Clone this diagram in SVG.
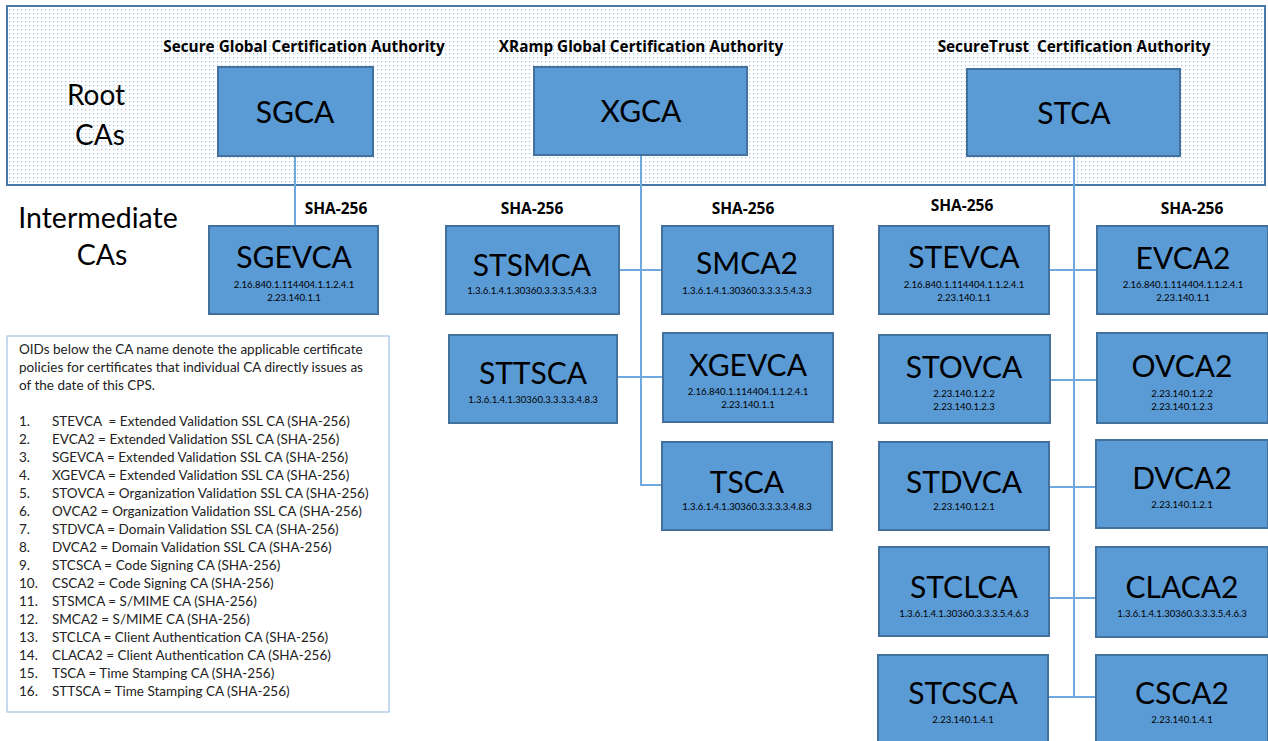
<svg xmlns="http://www.w3.org/2000/svg" width="1268" height="741" viewBox="0 0 1268 741">
<defs>
<pattern id="dots" width="4" height="4" patternUnits="userSpaceOnUse">
<rect width="4" height="4" fill="#ffffff"/>
<rect x="1" y="1" width="1.2" height="1.2" fill="#9fc2e4"/>
</pattern>
<style>
.node{fill:#5b9bd5;stroke:#41719c;stroke-width:2}
.name{font-family:Lato,"Open Sans",sans-serif;font-size:30px;fill:#000;text-anchor:middle}
.oid{font-family:Lato,"Open Sans",sans-serif;font-size:9.6px;fill:#000;text-anchor:middle}
.title{font-family:"Open Sans",Lato,sans-serif;font-size:15.3px;font-weight:bold;fill:#000;text-anchor:middle}
.sha{font-family:"Open Sans",Lato,sans-serif;font-size:15.5px;font-weight:bold;fill:#000;text-anchor:middle}
.lbl{font-family:Lato,"Open Sans",sans-serif;font-size:28px;fill:#000;text-anchor:middle}
.leg{font-family:Lato,"Open Sans",sans-serif;font-size:13.5px;fill:#222}
.wire{stroke:#6fa8dc;stroke-width:2;fill:none}
</style>
</defs>
<rect width="1268" height="741" fill="#ffffff"/>
<g id="root-band">
<rect x="7" y="6" width="1258" height="179" fill="url(#dots)" stroke="#4a76a8" stroke-width="2"/>
<text class="lbl" x="96" y="105">Root</text>
<text class="lbl" x="100" y="145">CAs</text>
<text class="title" x="304" y="52">Secure Global Certification Authority</text>
<text class="title" x="641" y="52">XRamp Global Certification Authority</text>
<text class="title" x="1074" y="52">SecureTrust&#160; Certification Authority</text>
</g>
<g id="intermediate-label">
<text class="lbl" x="98" y="228" style="font-size:28.5px">Intermediate</text>
<text class="lbl" x="102" y="265" style="font-size:28.5px">CAs</text>
</g>
<g id="sha-labels">
<text class="sha" x="336" y="214">SHA-256</text>
<text class="sha" x="532" y="214">SHA-256</text>
<text class="sha" x="743" y="214">SHA-256</text>
<text class="sha" x="962" y="211">SHA-256</text>
<text class="sha" x="1192" y="214">SHA-256</text>
</g>
<g id="connectors">
<path class="wire" d="M295 156 V226"/>
<path class="wire" d="M641 155 V485 H663"/>
<path class="wire" d="M619 270 H662"/>
<path class="wire" d="M617 377 H663"/>
<path class="wire" d="M1074 156 V697"/>
<path class="wire" d="M1049 270 H1097"/>
<path class="wire" d="M1050 380 H1097"/>
<path class="wire" d="M1049 487 H1096"/>
<path class="wire" d="M1049 598 H1096"/>
<path class="wire" d="M1048 697 H1096"/>
</g>
<g id="SGCA"><rect class="node" x="218" y="67" width="155" height="89"/><text class="name" x="295" y="123">SGCA</text></g>
<g id="XGCA"><rect class="node" x="534" y="67" width="213" height="88"/><text class="name" x="641" y="122">XGCA</text></g>
<g id="STCA"><rect class="node" x="967" y="69" width="213" height="87"/><text class="name" x="1074" y="124">STCA</text></g>
<g id="SGEVCA"><rect class="node" x="209" y="226" width="169" height="88"/><text class="name" x="294" y="268">SGEVCA</text><text class="oid" x="294" y="288">2.16.840.1.114404.1.1.2.4.1</text><text class="oid" x="294" y="301">2.23.140.1.1</text></g>
<g id="STSMCA"><rect class="node" x="446" y="226" width="173" height="88"/><text class="name" x="532" y="276">STSMCA</text><text class="oid" x="532" y="294">1.3.6.1.4.1.30360.3.3.3.5.4.3.3</text></g>
<g id="STTSCA"><rect class="node" x="449" y="335" width="168" height="88"/><text class="name" x="533" y="384">STTSCA</text><text class="oid" x="533" y="403">1.3.6.1.4.1.30360.3.3.3.3.4.8.3</text></g>
<g id="SMCA2"><rect class="node" x="662" y="226" width="171" height="88"/><text class="name" x="747" y="274">SMCA2</text><text class="oid" x="747" y="294">1.3.6.1.4.1.30360.3.3.3.5.4.3.3</text></g>
<g id="XGEVCA"><rect class="node" x="663" y="333" width="170" height="89"/><text class="name" x="748" y="376">XGEVCA</text><text class="oid" x="748" y="395">2.16.840.1.114404.1.1.2.4.1</text><text class="oid" x="748" y="408">2.23.140.1.1</text></g>
<g id="TSCA"><rect class="node" x="662" y="442" width="170" height="88"/><text class="name" x="747" y="493">TSCA</text><text class="oid" x="747" y="510">1.3.6.1.4.1.30360.3.3.3.3.4.8.3</text></g>
<g id="STEVCA"><rect class="node" x="879" y="226" width="170" height="88"/><text class="name" x="964" y="268">STEVCA</text><text class="oid" x="964" y="288">2.16.840.1.114404.1.1.2.4.1</text><text class="oid" x="964" y="301">2.23.140.1.1</text></g>
<g id="EVCA2"><rect class="node" x="1097" y="226" width="171" height="88"/><text class="name" x="1183" y="269">EVCA2</text><text class="oid" x="1183" y="288">2.16.840.1.114404.1.1.2.4.1</text><text class="oid" x="1183" y="301">2.23.140.1.1</text></g>
<g id="STOVCA"><rect class="node" x="879" y="335" width="171" height="88"/><text class="name" x="964" y="378">STOVCA</text><text class="oid" x="964" y="397">2.23.140.1.2.2</text><text class="oid" x="964" y="410">2.23.140.1.2.3</text></g>
<g id="OVCA2"><rect class="node" x="1097" y="333" width="171" height="90"/><text class="name" x="1182" y="377">OVCA2</text><text class="oid" x="1182" y="397">2.23.140.1.2.2</text><text class="oid" x="1182" y="410">2.23.140.1.2.3</text></g>
<g id="STDVCA"><rect class="node" x="879" y="442" width="170" height="88"/><text class="name" x="964" y="493">STDVCA</text><text class="oid" x="964" y="510">2.23.140.1.2.1</text></g>
<g id="DVCA2"><rect class="node" x="1096" y="440" width="172" height="88"/><text class="name" x="1182" y="489">DVCA2</text><text class="oid" x="1182" y="508">2.23.140.1.2.1</text></g>
<g id="STCLCA"><rect class="node" x="879" y="547" width="170" height="89"/><text class="name" x="964" y="598">STCLCA</text><text class="oid" x="964" y="617">1.3.6.1.4.1.30360.3.3.3.5.4.6.3</text></g>
<g id="CLACA2"><rect class="node" x="1096" y="547" width="172" height="90"/><text class="name" x="1182" y="598">CLACA2</text><text class="oid" x="1182" y="617">1.3.6.1.4.1.30360.3.3.3.5.4.6.3</text></g>
<g id="STCSCA"><rect class="node" x="878" y="655" width="170" height="90"/><text class="name" x="963" y="704">STCSCA</text><text class="oid" x="963" y="723">2.23.140.1.4.1</text></g>
<g id="CSCA2"><rect class="node" x="1096" y="655" width="172" height="90"/><text class="name" x="1182" y="704">CSCA2</text><text class="oid" x="1182" y="723">2.23.140.1.4.1</text></g>
<g id="legend">
<rect x="7" y="336" width="382" height="376" fill="#ffffff" stroke="#9dc3e6" stroke-width="1.2"/>
<text class="leg" x="19" y="354">OIDs below the CA name denote the applicable certificate</text>
<text class="leg" x="19" y="372">policies for certificates that individual CA directly issues as</text>
<text class="leg" x="19" y="390">of the date of this CPS.</text>
<text class="leg" x="19" y="426">1.</text><text class="leg" x="52" y="426">STEVCA&#160; = Extended Validation SSL CA (SHA-256)</text>
<text class="leg" x="19" y="444">2.</text><text class="leg" x="52" y="444">EVCA2 = Extended Validation SSL CA (SHA-256)</text>
<text class="leg" x="19" y="462">3.</text><text class="leg" x="52" y="462">SGEVCA = Extended Validation SSL CA (SHA-256)</text>
<text class="leg" x="19" y="480">4.</text><text class="leg" x="52" y="480">XGEVCA = Extended Validation SSL CA (SHA-256)</text>
<text class="leg" x="19" y="498">5.</text><text class="leg" x="52" y="498">STOVCA = Organization Validation SSL CA (SHA-256)</text>
<text class="leg" x="19" y="516">6.</text><text class="leg" x="52" y="516">OVCA2 = Organization Validation SSL CA (SHA-256)</text>
<text class="leg" x="19" y="534">7.</text><text class="leg" x="52" y="534">STDVCA = Domain Validation SSL CA (SHA-256)</text>
<text class="leg" x="19" y="552">8.</text><text class="leg" x="52" y="552">DVCA2 = Domain Validation SSL CA (SHA-256)</text>
<text class="leg" x="19" y="570">9.</text><text class="leg" x="52" y="570">STCSCA = Code Signing CA (SHA-256)</text>
<text class="leg" x="19" y="588">10.</text><text class="leg" x="52" y="588">CSCA2 = Code Signing CA (SHA-256)</text>
<text class="leg" x="19" y="606">11.</text><text class="leg" x="52" y="606">STSMCA = S/MIME CA (SHA-256)</text>
<text class="leg" x="19" y="624">12.</text><text class="leg" x="52" y="624">SMCA2 = S/MIME CA (SHA-256)</text>
<text class="leg" x="19" y="642">13.</text><text class="leg" x="52" y="642">STCLCA = Client Authentication CA (SHA-256)</text>
<text class="leg" x="19" y="660">14.</text><text class="leg" x="52" y="660">CLACA2 = Client Authentication CA (SHA-256)</text>
<text class="leg" x="19" y="678">15.</text><text class="leg" x="52" y="678">TSCA = Time Stamping CA (SHA-256)</text>
<text class="leg" x="19" y="696">16.</text><text class="leg" x="52" y="696">STTSCA = Time Stamping CA (SHA-256)</text>
</g>
</svg>
